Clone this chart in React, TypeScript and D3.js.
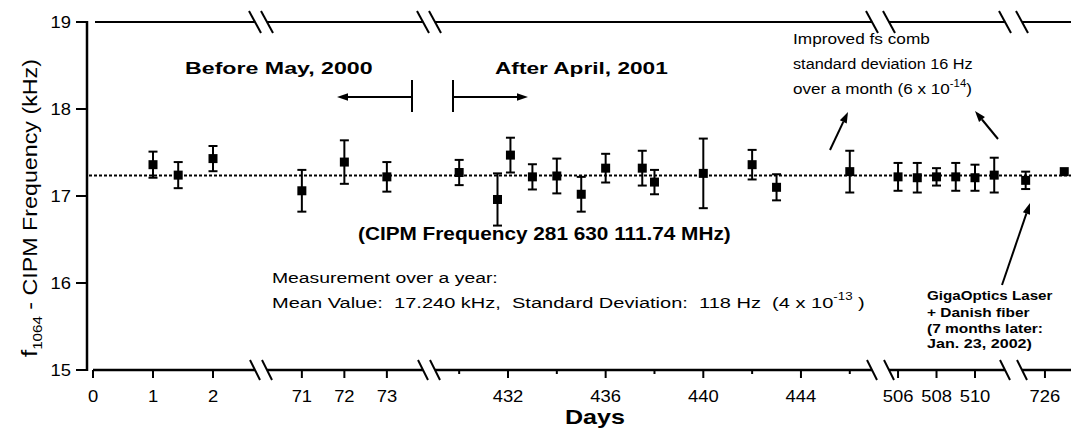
import React, { useLayoutEffect, useRef, useState } from "react";
import * as d3 from "d3";

const W = 1071;
const H = 431;
const FONT = "'Liberation Sans', Arial, Helvetica, sans-serif";

// ---- data ----
const days = [1, 1.42, 2, 71, 72, 73, 430, 431.57, 432.1, 433, 434, 435, 436, 437.5, 438, 440, 442, 443, 446, 506, 507, 508, 509, 510, 511, 725, 727];
const values = [17.36, 17.24, 17.43, 17.06, 17.39, 17.22, 17.27, 16.96, 17.47, 17.22, 17.23, 17.02, 17.32, 17.32, 17.16, 17.26, 17.36, 17.1, 17.28, 17.22, 17.21, 17.22, 17.22, 17.21, 17.24, 17.18, 17.28];
const errors = [0.15, 0.15, 0.145, 0.24, 0.25, 0.17, 0.145, 0.3, 0.2, 0.145, 0.2, 0.2, 0.165, 0.2, 0.14, 0.4, 0.17, 0.15, 0.24, 0.16, 0.17, 0.1, 0.16, 0.15, 0.2, 0.1, 0];
const meanValue = 17.235;
const yTicks = [15, 16, 17, 18, 19];
const segDomains = [[0, 2.7], [70.18, 73.85], [429.01, 446.91], [505.53, 511.56], [724.81, 727.35]];
const segMajorTicks = [[0, 1, 2], [71, 72, 73], [432, 436, 440, 444], [506, 508, 510], [726]];
const segMinorTicks = [[], [], [430, 434, 438, 442, 446], [], []];

// ---- layout ----
const segRanges = [[93, 255], [267, 423], [435, 872], [889, 1005], [1022, 1071]];
const yAxisX = 87;
const yTop = 22;
const yBottom = 370;

const y = d3.scaleLinear().domain([15, 19]).range([yBottom, yTop]);
const segScales = segDomains.map((d, i) => d3.scaleLinear().domain(d).range(segRanges[i]));

function xOf(day: number) {
  for (let i = 0; i < segDomains.length; i++) {
    const [a, b] = segDomains[i];
    if (day >= a && day <= b) return segScales[i](day);
  }
  return NaN;
}

function FitText(props: any) {
  const { x, y: yy, w, anchor = "start", rotate = 0, size = 15, weight = "normal", children } = props;
  const ref = useRef<SVGTextElement>(null);
  const [s, setS] = useState(1);
  useLayoutEffect(() => {
    if (ref.current) {
      const bw = ref.current.getBBox().width;
      if (bw > 0) setS(w / bw);
    }
  }, [w]);
  return (
    <g transform={`translate(${x},${yy}) rotate(${rotate}) scale(${s},1)`}>
      <text ref={ref} textAnchor={anchor} fontSize={size} fontWeight={weight} fontFamily={FONT} fill="#000" style={{ whiteSpace: "pre" }}>
        {children}
      </text>
    </g>
  );
}

function Arrow({ x1, y1, x2, y2, head = 11, hw = 3.8, sw = 2 }: any) {
  const ang = Math.atan2(y2 - y1, x2 - x1);
  const bx = x2 - head * Math.cos(ang);
  const by = y2 - head * Math.sin(ang);
  const px = -Math.sin(ang) * hw;
  const py = Math.cos(ang) * hw;
  return (
    <g>
      <line x1={x1} y1={y1} x2={bx} y2={by} stroke="#000" strokeWidth={sw} />
      <polygon points={`${x2},${y2} ${bx + px},${by + py} ${bx - px},${by - py}`} fill="#000" />
    </g>
  );
}

function Slash({ x, yy, hdx, hdy }: any) {
  return <line x1={x - hdx} y1={yy - hdy} x2={x + hdx} y2={yy + hdy} stroke="#000" strokeWidth={2} />;
}

export default function App() {
  const yMean = y(meanValue);
  const tickStretch = 1.15;
  return (
    <svg width={W} height={H} style={{ position: "absolute", left: 0, top: 0, background: "#fff" }}>
      <rect x={0} y={0} width={W} height={H} fill="#fff" />

      {/* mean dotted line */}
      <line x1={yAxisX + 2} x2={W} y1={yMean} y2={yMean} stroke="#000" strokeWidth={2} strokeDasharray="3,2" />

      {/* y axis */}
      <line x1={yAxisX} x2={yAxisX} y1={yTop - 1} y2={yBottom + 1} stroke="#000" strokeWidth={2.5} />
      {yTicks.map((t) => (
        <g key={t}>
          <line x1={76} x2={yAxisX} y1={y(t)} y2={y(t)} stroke="#000" strokeWidth={2} />
          <g transform={`translate(71,${y(t) + 6}) scale(${tickStretch},1)`}>
            <text textAnchor="end" fontSize={16} fontFamily={FONT}>{t}</text>
          </g>
        </g>
      ))}

      {/* top and bottom broken axes */}
      {segRanges.map(([a, b], i) => (
        <g key={"seg" + i}>
          <line x1={i === 0 ? 95 : a} x2={b} y1={yTop} y2={yTop} stroke="#000" strokeWidth={2} />
          <line x1={a} x2={b} y1={yBottom} y2={yBottom} stroke="#000" strokeWidth={2.5} />
          {i > 0 && <Slash x={a} yy={yTop} hdx={6} hdy={11} />}
          {i < segRanges.length - 1 && <Slash x={b} yy={yTop} hdx={6} hdy={11} />}
          {i > 0 && <Slash x={a} yy={yBottom} hdx={5} hdy={10} />}
          {i < segRanges.length - 1 && <Slash x={b} yy={yBottom} hdx={5} hdy={10} />}
          {segMajorTicks[i].map((t) => (
            <g key={"M" + t}>
              <line x1={segScales[i](t)} x2={segScales[i](t)} y1={yBottom} y2={yBottom + 8} stroke="#000" strokeWidth={2} />
              <g transform={`translate(${segScales[i](t)},402) scale(${tickStretch},1)`}>
                <text textAnchor="middle" fontSize={16} fontFamily={FONT}>{t}</text>
              </g>
            </g>
          ))}
          {segMinorTicks[i].map((t) => (
            <line key={"m" + t} x1={segScales[i](t)} x2={segScales[i](t)} y1={yBottom} y2={yBottom + 4} stroke="#000" strokeWidth={2} />
          ))}
        </g>
      ))}

      {/* data with error bars */}
      {days.map((d, i) => {
        const cx = xOf(d);
        const cy = y(values[i]);
        const e = errors[i];
        return (
          <g key={"p" + i}>
            {e > 0 && (
              <g stroke="#000" strokeWidth={2}>
                <line x1={cx} x2={cx} y1={y(values[i] + e)} y2={y(values[i] - e)} />
                <line x1={cx - 4.5} x2={cx + 4.5} y1={y(values[i] + e)} y2={y(values[i] + e)} />
                <line x1={cx - 4.5} x2={cx + 4.5} y1={y(values[i] - e)} y2={y(values[i] - e)} />
              </g>
            )}
            <rect x={cx - 4.5} y={cy - 4.5} width={9} height={9} fill="#000" />
          </g>
        );
      })}

      {/* Before / After annotation */}
      <FitText x={185} y={74} w={188} size={16} weight="bold">Before May, 2000</FitText>
      <FitText x={495} y={74} w={173} size={16} weight="bold">After April, 2001</FitText>
      <line x1={412} x2={412} y1={80} y2={112} stroke="#000" strokeWidth={2} />
      <Arrow x1={412} y1={97} x2={337} y2={97} />
      <line x1={453} x2={453} y1={80} y2={112} stroke="#000" strokeWidth={2} />
      <Arrow x1={453} y1={97} x2={528} y2={97} />

      {/* improved fs comb */}
      <FitText x={793} y={44} w={137} size={15}>Improved fs comb</FitText>
      <FitText x={793} y={69} w={180} size={15}>standard deviation 16 Hz</FitText>
      <FitText x={793} y={94} w={179} size={15}>
        over a month (6 x 10
        <tspan dy={-7} fontSize={10}>-14</tspan>
        <tspan dy={7}>)</tspan>
      </FitText>
      <Arrow x1={830} y1={150} x2={848} y2={112} />
      <Arrow x1={998} y1={139} x2={975} y2={111} />

      {/* CIPM */}
      <FitText x={358} y={240} w={373} size={18} weight="bold">(CIPM Frequency 281 630 111.74 MHz)</FitText>

      {/* measurement */}
      <FitText x={272} y={283} w={226} size={15}>Measurement over a year:</FitText>
      <FitText x={272} y={308} w={593} size={15}>
        {"Mean Value:  17.240 kHz,  Standard Deviation:  118 Hz  (4 x 10"}
        <tspan dy={-8} fontSize={10}>-13</tspan>
        <tspan dy={8}>{" )"}</tspan>
      </FitText>

      {/* GigaOptics */}
      <FitText x={927} y={300} w={126} size={12} weight="bold">GigaOptics Laser</FitText>
      <FitText x={927} y={317} w={103} size={12} weight="bold">+ Danish fiber</FitText>
      <FitText x={927} y={333} w={116} size={12} weight="bold">(7 months later:</FitText>
      <FitText x={927} y={348} w={105} size={12} weight="bold">Jan. 23, 2002)</FitText>
      <Arrow x1={1002} y1={285} x2={1030} y2={203} />

      {/* axis titles */}
      <FitText x={595} y={424} w={60} size={20} weight="bold" anchor="middle">Days</FitText>
      <FitText x={37} y={208} w={298} size={20} rotate={-90} anchor="middle">
        <tspan fontSize={22}>f</tspan>
        <tspan fontSize={13} dy={5}>1064</tspan>
        <tspan dy={-5}>{" - CIPM Frequency (kHz)"}</tspan>
      </FitText>
    </svg>
  );
}
